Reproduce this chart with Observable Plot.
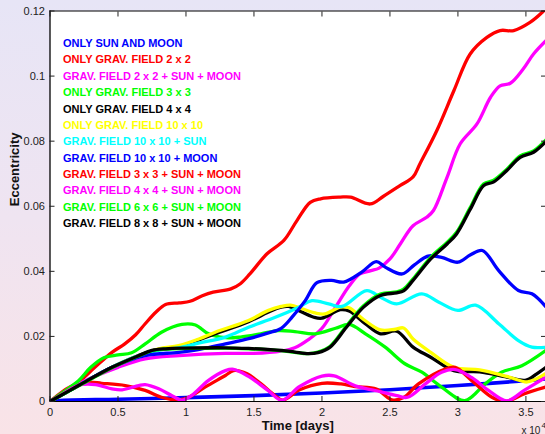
<!DOCTYPE html>
<html>
<head>
<meta charset="utf-8">
<script src="https://cdn.jsdelivr.net/npm/d3@7"></script>
<script src="https://cdn.jsdelivr.net/npm/@observablehq/plot@0.6"></script>
<style>
  html, body { margin: 0; padding: 0; overflow: hidden; }
  body { width: 545px; height: 434px; background: linear-gradient(to bottom, #e7e5f6 0%, #efe4f1 50%, #f9e3e7 100%); }
</style>
</head>
<body>
<div id="chart"></div>
<script>
// x in units of 10^4 days, y = eccentricity
const tickX = [0, 0.5, 1, 1.5, 2, 2.5, 3, 3.5];
const tickY = [0, 0.02, 0.04, 0.06, 0.08, 0.1, 0.12];

const labels = [
  "ONLY SUN AND MOON",
  "ONLY GRAV. FIELD 2 x 2",
  "GRAV. FIELD 2 x 2 + SUN + MOON",
  "ONLY GRAV. FIELD 3 x 3",
  "ONLY GRAV. FIELD 4 x 4",
  "ONLY GRAV. FIELD 10 x 10",
  "GRAV. FIELD 10 x 10 + SUN",
  "GRAV. FIELD 10 x 10 + MOON",
  "GRAV. FIELD 3 x 3 + SUN + MOON",
  "GRAV. FIELD 4 x 4 + SUN + MOON",
  "GRAV. FIELD 6 x 6 + SUN + MOON",
  "GRAV. FIELD 8 x 8 + SUN + MOON"
];
const colors = ["#0000ff", "#ff0000", "#ff00ff", "#00ff00", "#000000", "#ffff00",
                "#00ffff", "#0000ff", "#ff0000", "#ff00ff", "#00ff00", "#000000"];

const onlySunMoon = [[0,0],[0.1,0.0004],[0.5,0.0007],[1,0.0012],[1.5,0.0018],[2,0.0026],[2.5,0.0036],[3,0.0049],[3.5,0.0064],[3.65,0.0070]];
const onlyGrav2 = [[0,0],[0.1,0.0033],[0.21,0.006],[0.33,0.0105],[0.456,0.0151],[0.55,0.0177],[0.63,0.0205],[0.70,0.0239],[0.78,0.0275],[0.85,0.0298],[0.95,0.0303],[1.03,0.0308],[1.12,0.0325],[1.2,0.0336],[1.33,0.0346],[1.40,0.0362],[1.47,0.0392],[1.596,0.0454],[1.72,0.0495],[1.816,0.0556],[1.914,0.0612],[1.99,0.0623],[2.135,0.0628],[2.21,0.0628],[2.355,0.0607],[2.45,0.063],[2.576,0.0664],[2.67,0.069],[2.72,0.073],[2.845,0.0833],[2.97,0.0955],[3.09,0.1068],[3.213,0.1119],[3.31,0.114],[3.41,0.114],[3.53,0.1165],[3.62,0.1196],[3.65,0.121]];
const grav2SunMoon = [[0,0],[0.25,0.0062],[0.5,0.0105],[0.7,0.0131],[0.95,0.0141],[1.29,0.0148],[1.5,0.0148],[1.7,0.0155],[1.8,0.0165],[1.9,0.019],[2.0,0.0225],[2.1,0.029],[2.2,0.0355],[2.28,0.0392],[2.36,0.0402],[2.42,0.041],[2.5,0.0438],[2.576,0.0484],[2.67,0.054],[2.77,0.0566],[2.82,0.0587],[2.92,0.0689],[3.017,0.0792],[3.14,0.0853],[3.24,0.0935],[3.31,0.097],[3.385,0.0978],[3.48,0.1022],[3.556,0.1068],[3.65,0.111]];
const onlyGrav3 = [[0,0],[0.1,0.003],[0.21,0.0064],[0.3,0.0105],[0.4,0.0135],[0.5,0.0143],[0.6,0.015],[0.70,0.0177],[0.82,0.0213],[0.97,0.0237],[1.07,0.0235],[1.166,0.0208],[1.29,0.0196],[1.4,0.0198],[1.55,0.0208],[1.68,0.0218],[1.8,0.0215],[1.95,0.0208],[2.1,0.0225],[2.2,0.0237],[2.32,0.0208],[2.465,0.0167],[2.61,0.0116],[2.735,0.009],[2.88,0.0044],[3.05,0.0003],[3.20,0.0054],[3.32,0.009],[3.47,0.011],[3.65,0.0158]];
const onlyGrav4 = [[0,0],[0.21,0.0049],[0.456,0.0105],[0.652,0.0141],[0.8,0.016],[0.946,0.0168],[1.1,0.019],[1.215,0.0208],[1.46,0.0245],[1.607,0.0275],[1.70,0.029],[1.755,0.0292],[1.80,0.0285],[1.94,0.0259],[2.0,0.0256],[2.135,0.0282],[2.2,0.0278],[2.318,0.0239],[2.43,0.0208],[2.55,0.0216],[2.67,0.0167],[2.80,0.0136],[2.97,0.0095],[3.16,0.0091],[3.36,0.0075],[3.495,0.0065],[3.58,0.0085],[3.65,0.0106]];
const onlyGrav10 = [[0,0],[0.21,0.0049],[0.456,0.0105],[0.652,0.0141],[0.8,0.0162],[0.946,0.0172],[1.1,0.0193],[1.215,0.0213],[1.46,0.0249],[1.607,0.028],[1.70,0.0292],[1.77,0.0296],[1.853,0.0285],[1.95,0.0272],[2.02,0.0269],[2.135,0.029],[2.2,0.0288],[2.306,0.0252],[2.43,0.022],[2.54,0.0222],[2.6,0.0226],[2.67,0.0192],[2.80,0.0151],[2.97,0.0105],[3.16,0.0097],[3.36,0.0077],[3.51,0.006],[3.58,0.007],[3.65,0.0087]];
const grav10Sun = [[0,0],[0.21,0.0049],[0.456,0.0105],[0.652,0.0141],[0.8,0.0158],[0.946,0.0165],[1.1,0.018],[1.29,0.0198],[1.46,0.0228],[1.657,0.0259],[1.83,0.029],[1.926,0.031],[2.05,0.030],[2.147,0.0292],[2.33,0.0341],[2.44,0.0318],[2.55,0.030],[2.735,0.0331],[2.86,0.0305],[3.0,0.028],[3.13,0.0296],[3.30,0.0239],[3.445,0.0187],[3.544,0.0167],[3.65,0.0167]];
const grav10Moon = [[0,0],[0.21,0.0049],[0.456,0.0105],[0.70,0.0141],[0.946,0.0151],[1.1,0.016],[1.29,0.0177],[1.46,0.0193],[1.6,0.021],[1.7,0.0225],[1.78,0.0259],[1.877,0.031],[1.963,0.0365],[2.07,0.0372],[2.16,0.0367],[2.29,0.0397],[2.40,0.043],[2.465,0.0413],[2.59,0.0392],[2.68,0.042],[2.78,0.0447],[2.88,0.0443],[3.0,0.0428],[3.09,0.045],[3.18,0.0464],[3.30,0.0402],[3.445,0.0341],[3.544,0.0331],[3.65,0.029]];
const grav3SunMoon = [[0,0],[0.1,0.0025],[0.21,0.005],[0.284,0.0059],[0.38,0.0056],[0.554,0.0049],[0.70,0.0034],[0.82,0.0013],[0.946,0.0005],[1.02,0.0013],[1.14,0.0044],[1.29,0.008],[1.35,0.0095],[1.45,0.0085],[1.55,0.0055],[1.65,0.002],[1.71,0.0004],[1.836,0.0036],[2.0,0.0056],[2.14,0.0054],[2.245,0.0046],[2.4,0.0038],[2.515,0.0005],[2.6,0.0012],[2.71,0.0054],[2.906,0.010],[2.98,0.0105],[3.10,0.0065],[3.25,0.0013],[3.35,0.0],[3.49,0.0024],[3.65,0.0045]];
const grav4SunMoon = [[0,0],[0.1,0.0025],[0.21,0.005],[0.333,0.0052],[0.456,0.0039],[0.53,0.0036],[0.652,0.0049],[0.70,0.0052],[0.80,0.0039],[0.897,0.0018],[0.97,0.0004],[1.04,0.0018],[1.166,0.0065],[1.29,0.0095],[1.35,0.0099],[1.46,0.0077],[1.6,0.0035],[1.705,0.0004],[1.836,0.0046],[2.0,0.0078],[2.09,0.0079],[2.245,0.0048],[2.40,0.0033],[2.55,0.0018],[2.63,0.0013],[2.76,0.0054],[2.88,0.009],[2.98,0.0098],[3.10,0.0074],[3.225,0.0034],[3.36,0.0002],[3.49,0.0035],[3.65,0.0075]];
const grav6SunMoon = [[0,0],[0.21,0.0048],[0.456,0.0104],[0.652,0.014],[0.75,0.0156],[0.85,0.0161],[1.0,0.0163],[1.29,0.0164],[1.46,0.0162],[1.6,0.0159],[1.705,0.0156],[1.8,0.0151],[1.9,0.0147],[1.97,0.0152],[2.06,0.017],[2.18,0.0232],[2.306,0.0294],[2.43,0.033],[2.55,0.0337],[2.6,0.0345],[2.67,0.0377],[2.80,0.0443],[2.92,0.0489],[2.99,0.052],[3.09,0.0596],[3.19,0.0669],[3.26,0.0679],[3.36,0.0714],[3.458,0.0755],[3.556,0.077],[3.65,0.0805]];
const grav8SunMoon = [[0,0],[0.21,0.0049],[0.456,0.0105],[0.652,0.0141],[0.75,0.0157],[0.85,0.0162],[1.0,0.0164],[1.29,0.0165],[1.46,0.0163],[1.6,0.016],[1.705,0.0157],[1.8,0.0152],[1.9,0.0147],[1.97,0.015],[2.06,0.0167],[2.18,0.0228],[2.306,0.029],[2.43,0.0326],[2.55,0.0334],[2.6,0.034],[2.67,0.0372],[2.80,0.0438],[2.92,0.0484],[2.99,0.0515],[3.09,0.059],[3.19,0.0664],[3.26,0.0674],[3.36,0.071],[3.458,0.075],[3.556,0.0766],[3.65,0.080]];

const seriesData = [onlySunMoon, onlyGrav2, grav2SunMoon, onlyGrav3, onlyGrav4, onlyGrav10,
                    grav10Sun, grav10Moon, grav3SunMoon, grav4SunMoon, grav6SunMoon, grav8SunMoon];

const font = "'Liberation Sans', Arial, Helvetica, sans-serif";

const lineMarks = seriesData.map((data, i) =>
  Plot.line(data, {x: d => d[0], y: d => d[1], stroke: colors[i], strokeWidth: i === 0 ? 3.6 : 3.3,
                   curve: "catmull-rom", clip: true}));

const legendMarks = labels.map((lab, i) =>
  Plot.text([lab], {frameAnchor: "top-left", dx: 13, dy: 32.6 + i * 16.36, text: d => d,
                    fill: colors[i], fontWeight: "bold", fontSize: 11, textAnchor: "start",
                    lineAnchor: "middle"}));

const chart = Plot.plot({
  width: 545,
  height: 434,
  marginLeft: 49.5,
  marginRight: 0,
  marginTop: 10.5,
  marginBottom: 33,
  style: {background: "transparent", fontFamily: font, fontSize: "11px", color: "#222"},
  x: {domain: [0, 3.644], label: null},
  y: {domain: [0, 0.12], label: null},
  marks: [
    Plot.frame({fill: "white", stroke: null}),
    ...lineMarks,
    Plot.ruleY([0, 0.12], {stroke: "black", strokeWidth: 1}),
    Plot.ruleX([0], {stroke: "black", strokeWidth: 1.3}),
    Plot.axisX(tickX, {anchor: "bottom", tickSize: -5, tickPadding: 12, tickFormat: d => String(d), fontSize: 11, fill: "#222", label: null}),
    Plot.axisX(tickX, {anchor: "top", tickSize: -5, tickFormat: () => "", label: null}),
    Plot.axisY(tickY, {anchor: "left", tickSize: -5, tickPadding: 10, tickFormat: d => String(d), fontSize: 11, fill: "#222", label: null}),
    Plot.axisY(tickY, {anchor: "right", tickSize: -5, tickFormat: () => "", label: null}),
    ...legendMarks,
    Plot.text(["Eccentricity"], {frameAnchor: "left", dx: -35, rotate: -90, text: d => d, fontWeight: "bold", fontSize: 13, fill: "#111"}),
    Plot.text(["Time [days]"], {frameAnchor: "bottom", dy: 24, text: d => d, fontWeight: "bold", fontSize: 13, fill: "#111", lineAnchor: "middle"}),
    Plot.text(["x 10"], {frameAnchor: "bottom-right", dx: -24, dy: 29, text: d => d, fontSize: 10, fill: "#222", textAnchor: "start", lineAnchor: "middle"}),
    Plot.text(["4"], {frameAnchor: "bottom-right", dx: -4, dy: 24, text: d => d, fontSize: 8, fill: "#222", textAnchor: "start", lineAnchor: "middle"})
  ]
});
document.getElementById("chart").appendChild(chart);
</script>
</body>
</html>
